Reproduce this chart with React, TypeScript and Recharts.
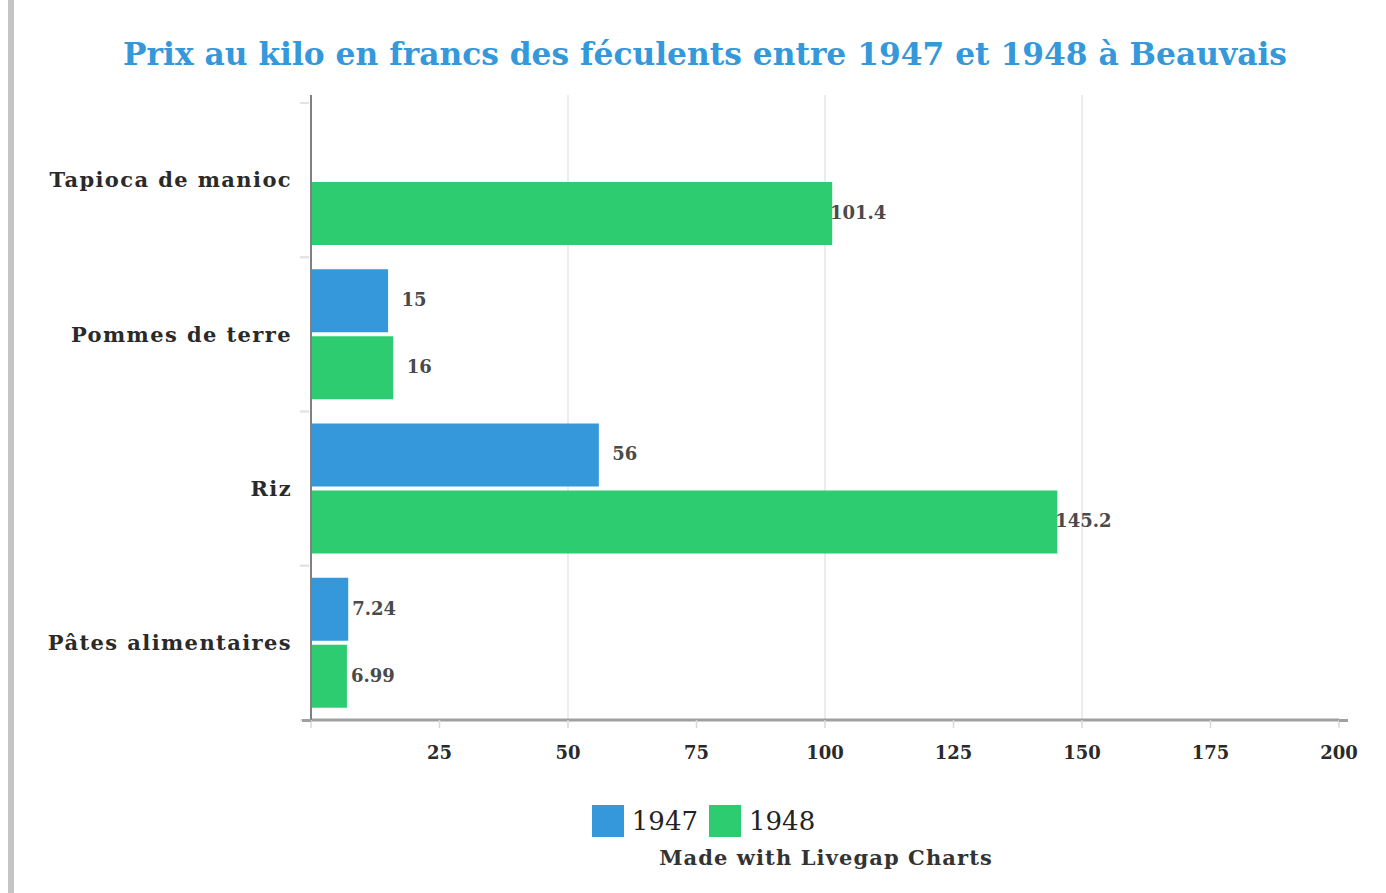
import React from 'react';
import { BarChart, Bar, XAxis, YAxis, CartesianGrid, Legend, LabelList } from 'recharts';

const categories = ['Tapioca de manioc', 'Pommes de terre', 'Riz', 'Pâtes alimentaires'];
const values1947: (number | null)[] = [null, 15, 56, 7.24];
const values1948: number[] = [101.4, 16, 145.2, 6.99];
const xTicks = [0, 25, 50, 75, 100, 125, 150, 175, 200];
const xDomain = [0, 200];
const gridValues = [50, 100, 150];
const seriesNames = ['1947', '1948'];
const seriesColors = ['#3498db', '#2ecc71'];

const data = categories.map((c, i) => ({ name: c, v1947: values1947[i], v1948: values1948[i] }));

const SERIF = '"DejaVu Serif", serif';

const ValueLabel = (props: any) => {
  const { x, y, width, height, value } = props;
  if (value === null || value === undefined) return null;
  return (
    <text x={x + width + 26} y={y + height / 2} dy="0.3em" textAnchor="middle"
      fontFamily={SERIF} fontWeight="bold" fontSize={18} fill="#4a4a4a">
      {value}
    </text>
  );
};

const CatTick = (props: any) => {
  const { x, y, payload } = props;
  const off = payload && payload.offset ? payload.offset : 0;
  return (
    <g>
      <text x={x - 11} y={y} dy="0.35em" textAnchor="end" fontFamily={SERIF} fontWeight="bold"
        fontSize={21} fill="#2a2a2a" letterSpacing={1.4}>
        {payload.value}
      </text>
      {off ? (
        <>
          <line x1={x - 3} x2={x + 6} y1={y - off} y2={y - off} stroke="#e3e3e3" strokeWidth={2} />
          <line x1={x - 3} x2={x + 6} y1={y + off} y2={y + off} stroke="#e3e3e3" strokeWidth={2} />
        </>
      ) : null}
    </g>
  );
};

const XTick = (props: any) => {
  const { x, y, payload } = props;
  if (payload.value === 0) return null;
  return (
    <text x={x} y={y + 23} dy="0.35em" textAnchor="middle" fontFamily={SERIF} fontWeight="bold"
      fontSize={18} fill="#2a2a2a">
      {payload.value}
    </text>
  );
};

const LegendContent = (props: any) => {
  const { payload } = props;
  return (
    <div style={{ display: 'flex', justifyContent: 'center', alignItems: 'center' }}>
      {(payload || []).map((p: any, i: number) => (
        <div key={i} style={{ display: 'flex', alignItems: 'center', marginRight: 11 }}>
          <div style={{ width: 32, height: 32, background: p.color, marginRight: 8 }} />
          <span style={{ fontFamily: SERIF, fontSize: 26, color: '#222' }}>{p.value}</span>
        </div>
      ))}
    </div>
  );
};

const gridGen = (props: any) => {
  const { xAxis, offset } = props || {};
  const s = xAxis && xAxis.scale;
  if (typeof s === 'function') return gridValues.map((v) => s(v));
  if (s && typeof s.map === 'function') return gridValues.map((v) => s.map(v));
  if (offset && typeof offset.left === 'number') {
    return gridValues.map((v) => offset.left + ((v - xDomain[0]) / (xDomain[1] - xDomain[0])) * offset.width);
  }
  return [];
};

export default function App() {
  return (
    <div style={{ position: 'absolute', left: 0, top: 0, width: 1386, height: 893, background: '#fff', overflow: 'hidden' }}>
      <div style={{ position: 'absolute', left: 8, top: 0, width: 6, height: 893, background: '#c4c4c4' }} />
      <div style={{ position: 'absolute', left: 0, top: 34, width: 1410, textAlign: 'center', fontFamily: SERIF,
        fontWeight: 'bold', fontSize: 31.3, color: '#3498db', lineHeight: '40px' }}>
        Prix au kilo en francs des féculents entre 1947 et 1948 à Beauvais
      </div>
      <div style={{ position: 'absolute', left: 0, top: 0 }}>
        <BarChart width={1386} height={893} data={data} layout="vertical"
          margin={{ top: 95, right: 47, bottom: 79, left: 11 }} barCategoryGap={12} barGap={4}>
          <CartesianGrid horizontal={false} vertical={true} stroke="#e6e6e6" strokeWidth={1.5}
            verticalCoordinatesGenerator={gridGen} />
          <XAxis type="number" domain={xDomain} ticks={xTicks} interval={0} height={60}
            axisLine={{ stroke: '#a0a0a0', strokeWidth: 3 }} tickLine={{ stroke: '#d8d8d8', strokeWidth: 1.5 }}
            tickSize={8} tick={<XTick />} />
          <YAxis type="category" dataKey="name" width={300} axisLine={{ stroke: '#808080', strokeWidth: 2 }}
            tickLine={false} tick={<CatTick />} interval={0} padding={{ top: 8, bottom: 0 }} />
          <Bar dataKey="v1947" name={seriesNames[0]} fill={seriesColors[0]} isAnimationActive={false}>
            <LabelList dataKey="v1947" content={<ValueLabel />} />
          </Bar>
          <Bar dataKey="v1948" name={seriesNames[1]} fill={seriesColors[1]} isAnimationActive={false}>
            <LabelList dataKey="v1948" content={<ValueLabel />} />
          </Bar>
          <Legend content={<LegendContent />}
            wrapperStyle={{ position: 'absolute', left: 0, top: 805, width: 1418, height: 34 }} />
        </BarChart>
      </div>
      <div style={{ position: 'absolute', left: 302, top: 719, width: 9, height: 3, background: '#a0a0a0' }} />
      <div style={{ position: 'absolute', left: 1339, top: 719, width: 9, height: 3, background: '#a0a0a0' }} />
      <div style={{ position: 'absolute', left: 0, top: 845, width: 1652, textAlign: 'center', fontFamily: SERIF,
        fontWeight: 'bold', fontSize: 21, color: '#333', lineHeight: '26px', letterSpacing: 1.1 }}>
        Made with Livegap Charts
      </div>
    </div>
  );
}
